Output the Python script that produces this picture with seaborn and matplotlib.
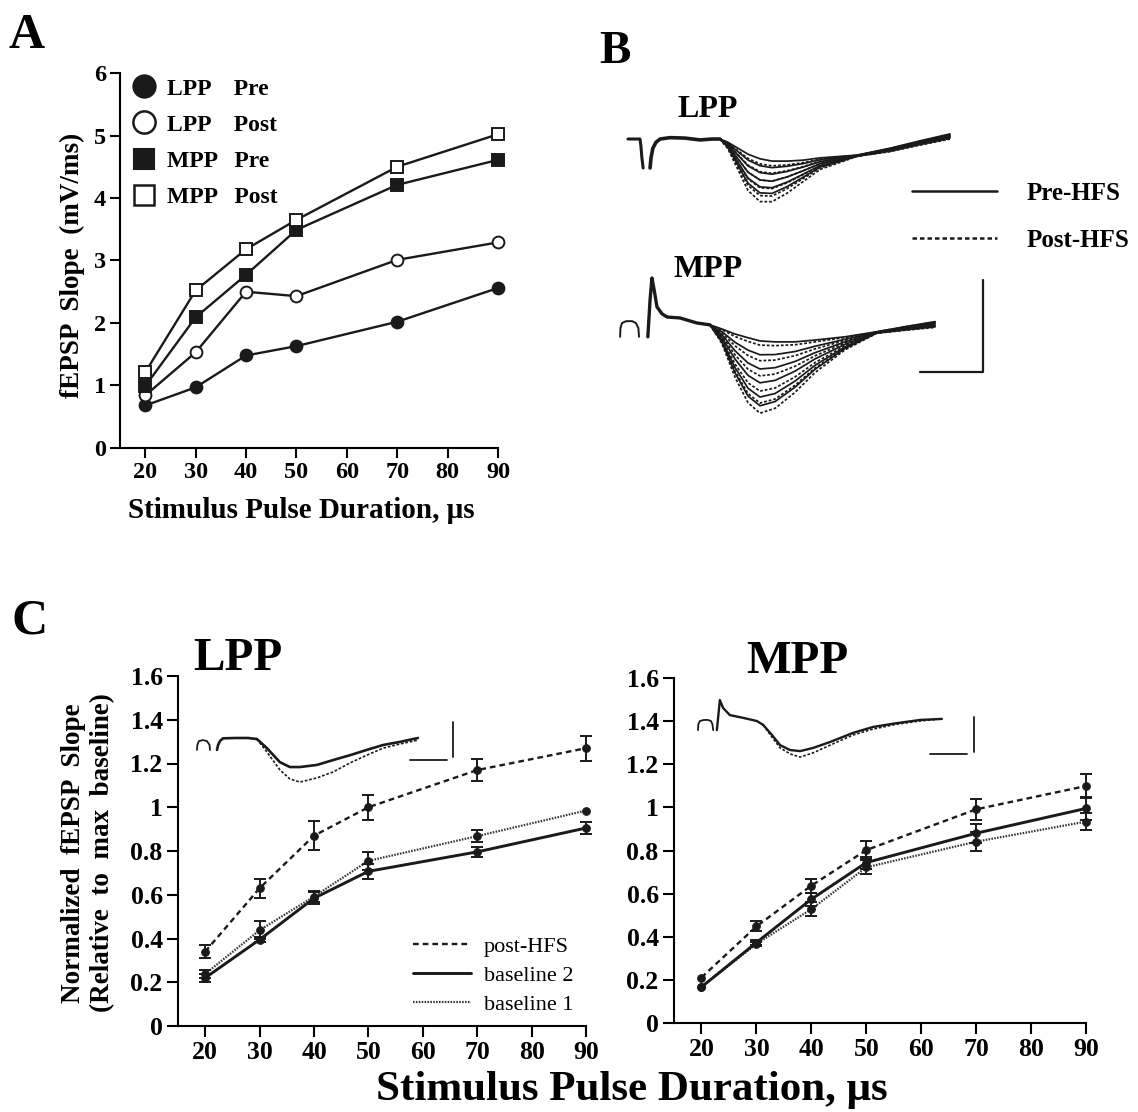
import numpy as np
import matplotlib
matplotlib.use("Agg")
import matplotlib.pyplot as plt
from matplotlib.lines import Line2D
from matplotlib.ticker import FuncFormatter
import seaborn as sns

sns.set_theme(style="ticks", rc={"axes.edgecolor": "black", "xtick.color": "black",
                                 "ytick.color": "black", "text.color": "black",
                                 "axes.labelcolor": "black"})
plt.rcParams["font.family"] = ["Liberation Serif", "DejaVu Serif"]
plt.rcParams["font.weight"] = "bold"
plt.rcParams["axes.linewidth"] = 1.5

# ---- data ----
durations = [20, 30, 40, 50, 70, 90]

# A: fEPSP slope (mV/ms)
lpp_pre = [0.68, 0.97, 1.48, 1.63, 2.02, 2.56]
lpp_post = [0.84, 1.53, 2.50, 2.43, 3.01, 3.29]
mpp_pre = [0.99, 2.09, 2.77, 3.49, 4.21, 4.61]
mpp_post = [1.21, 2.52, 3.18, 3.65, 4.50, 5.02]

# C: normalized slope, mean and error
c_lpp_post = [0.34, 0.63, 0.87, 1.00, 1.17, 1.27]
c_lpp_post_err = [0.03, 0.043, 0.065, 0.058, 0.051, 0.058]
c_lpp_b2 = [0.22, 0.395, 0.584, 0.707, 0.796, 0.905]
c_lpp_b2_err = [0.02, 0.01, 0.027, 0.035, 0.023, 0.028]
c_lpp_b1 = [0.238, 0.438, 0.592, 0.755, 0.868, 0.985]
c_lpp_b1_err = [0.02, 0.04, 0.026, 0.04, 0.028, 0.0]
c_mpp_post = [0.211, 0.448, 0.637, 0.802, 0.991, 1.099]
c_mpp_post_err = [0.0, 0.023, 0.032, 0.041, 0.05, 0.056]
c_mpp_b2 = [0.167, 0.373, 0.574, 0.744, 0.88, 0.995]
c_mpp_b2_err = [0.0, 0.01, 0.03, 0.028, 0.045, 0.055]
c_mpp_b1 = [0.167, 0.367, 0.528, 0.722, 0.841, 0.934]
c_mpp_b1_err = [0.0, 0.01, 0.031, 0.033, 0.044, 0.04]

# B: example traces (ms, mV); dip = slow - amp * fast
b_lpp_art_t = [0, 0.38, 0.41, 0.44, 0.48]
b_lpp_art_v = [0, 0, -0.15, -0.40, -0.63]
b_lpp_base_t = [0.70, 0.73, 0.79, 0.89, 1.02, 1.33, 1.81, 2.29, 2.67, 2.92]
b_lpp_base_v = [-0.63, -0.41, -0.20, -0.07, 0, 0.03, 0.02, -0.02, 0, 0]
b_lpp_dip_t = [2.92, 3.17, 3.49, 3.81, 4.19, 4.57, 5.05, 5.56, 6.10, 7.27, 8.32, 9.27, 10.22]
b_lpp_slow = [0, -0.07, -0.20, -0.33, -0.43, -0.48, -0.48, -0.46, -0.41, -0.35, -0.20, -0.04, 0.11]
b_lpp_fast = [0, 0.15, 0.50, 0.85, 1.0, 0.95, 0.75, 0.50, 0.27, 0.03, 0.08, 0.10, 0.12]
b_lpp_pre_amp = [0, 0.15, 0.30, 0.46, 0.61, 0.74]
b_lpp_post_amp = [0.11, 0.28, 0.46, 0.63, 0.80, 0.93]

b_mpp_art_t = [-0.25, -0.24, -0.19, -0.06, 0.13, 0.25, 0.33, 0.35]
b_mpp_art_v = [-0.26, -0.07, 0.04, 0.08, 0.08, 0.04, -0.07, -0.26]
b_mpp_base_t = [0.63, 0.70, 0.76, 0.83, 0.92, 1.08, 1.24, 1.65, 2.19, 2.60]
b_mpp_base_v = [-0.26, 0.54, 1.02, 0.76, 0.39, 0.24, 0.17, 0.15, 0.04, 0]
b_mpp_dip_t = [2.60, 2.98, 3.40, 3.81, 4.19, 4.67, 5.30, 5.94, 6.89, 7.90, 8.79, 9.75]
b_mpp_slow = [0, -0.09, -0.20, -0.28, -0.35, -0.37, -0.37, -0.33, -0.26, -0.15, -0.04, 0.07]
b_mpp_fast = [0, 0.20, 0.60, 0.90, 1.0, 0.92, 0.70, 0.45, 0.18, 0.02, 0.05, 0.08]
b_mpp_pre_amp = [0, 0.30, 0.61, 0.91, 1.22, 1.41]
b_mpp_post_amp = [0.09, 0.43, 0.76, 1.09, 1.35, 1.57]

# C insets: single traces (ms, mV)
c_lpp_art_t = [0, 0.01, 0.05, 0.16, 0.27, 0.34, 0.35]
c_lpp_art_v = [-0.34, -0.20, -0.09, -0.06, -0.09, -0.20, -0.34]
c_lpp_base_t = [0.54, 0.57, 0.62, 0.70, 1.03, 1.38, 1.62]
c_lpp_base_v = [-0.34, -0.20, -0.09, -0.01, 0, 0, -0.03]
c_lpp_dip_t = [1.62, 1.89, 2.24, 2.51, 2.78, 3.24, 3.68, 4.14, 4.59, 5.03, 5.49, 5.97]
c_lpp_pre_v = [-0.03, -0.29, -0.69, -0.83, -0.83, -0.77, -0.63, -0.49, -0.34, -0.20, -0.11, 0]
c_lpp_post_v = [-0.03, -0.40, -0.91, -1.17, -1.26, -1.14, -0.97, -0.71, -0.49, -0.29, -0.17, -0.06]

c_mpp_art_t = [0, 0.01, 0.05, 0.16, 0.27, 0.35, 0.39, 0.41]
c_mpp_art_v = [-0.26, -0.09, 0, 0.03, 0.03, 0, -0.09, -0.26]
c_mpp_base_t = [0.51, 0.57, 0.59, 0.68, 0.86, 1.22, 1.59, 1.76]
c_mpp_base_v = [-0.26, 0.37, 0.60, 0.37, 0.17, 0.09, 0, -0.11]
c_mpp_dip_t = [1.76, 2.0, 2.22, 2.49, 2.76, 3.11, 3.57, 4.19, 4.73, 5.38, 6.0, 6.59]
c_mpp_pre_v = [-0.11, -0.40, -0.69, -0.83, -0.86, -0.77, -0.60, -0.34, -0.17, -0.06, 0.03, 0.06]
c_mpp_post_v = [-0.11, -0.46, -0.77, -0.94, -1.03, -0.91, -0.69, -0.40, -0.23, -0.09, 0, 0.06]

# ---- layout helpers ----
W, H = 1138, 1112
fig = plt.figure(figsize=(W / 100, H / 100), dpi=100)


def rect(x0, y0, x1, y1):
    return [x0 / W, 1 - y1 / H, (x1 - x0) / W, (y1 - y0) / H]


def ftext(x, y, s, **kw):
    return fig.text(x / W, 1 - y / H, s, **kw)


def trace(ax, t, v, **kw):
    kw.setdefault("lw", 1.0)
    sns.lineplot(x=list(t), y=list(v), ax=ax, sort=False, estimator=None,
                 color="k", legend=False, **kw)


DOT = (0, (1.6, 1.1))

# ---- panel A ----
ax_a = fig.add_axes(rect(120, 73, 498, 448))
styles_a = [(lpp_pre, "o", "k", 8.5), (lpp_post, "o", "w", 8.5),
            (mpp_pre, "s", "k", 8.0), (mpp_post, "s", "w", 8.0)]
for vals, mk, fc, ms in styles_a:
    sns.lineplot(x=durations, y=vals, ax=ax_a, color="k", lw=1.7, marker=mk,
                 markersize=ms, markerfacecolor=fc, markeredgecolor="k",
                 markeredgewidth=1.4, legend=False, clip_on=False)
ax_a.set_xlim(15, 90)
ax_a.set_ylim(0, 6)
ax_a.set_xticks(range(20, 91, 10))
ax_a.set_yticks(range(0, 7))
ax_a.set_xlabel("")
ax_a.set_ylabel("")
sns.despine(ax=ax_a)
ax_a.tick_params(direction="out", length=7, width=1.5, labelsize=17.5, pad=3)

leg_handles = [Line2D([], [], ls="", marker="o", ms=16, mfc="k", mec="k", mew=1.5),
               Line2D([], [], ls="", marker="o", ms=16, mfc="w", mec="k", mew=1.8),
               Line2D([], [], ls="", marker="s", ms=15, mfc="k", mec="k", mew=1.5),
               Line2D([], [], ls="", marker="s", ms=15, mfc="w", mec="k", mew=1.8)]
leg_labels = ["LPP    Pre", "LPP    Post", "MPP   Pre", "MPP   Post"]
ax_a.legend(leg_handles, leg_labels, loc="upper left",
            bbox_to_anchor=(132 / W, 1 - 78 / H), bbox_transform=fig.transFigure,
            frameon=False, fontsize=17, handlelength=1.0, handletextpad=0.5,
            borderpad=0, borderaxespad=0, labelspacing=0.62)

ftext(72, 265, "fEPSP  Slope  (mV/ms)", rotation=90, ha="center", va="center", fontsize=19.5)
ftext(301, 518, "Stimulus Pulse Duration, \u03bcs", ha="center", va="baseline", fontsize=21)

# ---- panel B ----
ax_b = fig.add_axes(rect(600, 80, 1000, 430))
mpp_offset = -4.04
trace(ax_b, b_lpp_art_t, b_lpp_art_v, lw=2.2)
trace(ax_b, b_lpp_base_t, b_lpp_base_v, lw=2.6)
for amps, ls in [(b_lpp_pre_amp, "-"), (b_lpp_post_amp, DOT)]:
    for a in amps:
        v = np.array(b_lpp_slow) - a * np.array(b_lpp_fast)
        trace(ax_b, b_lpp_dip_t, v, lw=1.25, linestyle=ls)
trace(ax_b, b_mpp_art_t, np.array(b_mpp_art_v) + mpp_offset, lw=1.4)
trace(ax_b, b_mpp_base_t, np.array(b_mpp_base_v) + mpp_offset, lw=2.4)
for amps, ls in [(b_mpp_pre_amp, "-"), (b_mpp_post_amp, DOT)]:
    for a in amps:
        v = np.array(b_mpp_slow) - a * np.array(b_mpp_fast) + mpp_offset
        trace(ax_b, b_mpp_dip_t, v, lw=1.25, linestyle=ls)
# scale bar: 2 ms, 2 mV
bar_ms, bar_mv = 2.0, 2.0
corner_t, corner_v = 11.27, -5.07
ax_b.plot([corner_t - bar_ms, corner_t, corner_t], [corner_v, corner_v, corner_v + bar_mv],
          color="k", lw=1.6)
ax_b.set_xlim(-0.889, 11.81)
ax_b.set_ylim(-6.326, 1.283)
ax_b.axis("off")

fig.legend([Line2D([], [], color="k", lw=1.8), Line2D([], [], color="k", lw=1.8, ls=(0, (1.8, 1.2)))],
           ["Pre-HFS", "Post-HFS"], loc="upper left",
           bbox_to_anchor=(912 / W, 1 - 182 / H), frameon=False, fontsize=18,
           handlelength=3.4, handletextpad=1.2, borderpad=0, borderaxespad=0,
           labelspacing=0.95)
ftext(708, 117, "LPP", ha="center", va="baseline", fontsize=23)
ftext(708, 277, "MPP", ha="center", va="baseline", fontsize=23)

# ---- panel C ----
ax_l = fig.add_axes(rect(178, 676, 586, 1026))
ax_m = fig.add_axes(rect(674, 678, 1086, 1023))
series_style = {
    "post-HFS": dict(lw=1.7, linestyle=(0, (2.4, 1.7)), color="k"),
    "baseline 2": dict(lw=2.1, linestyle="-", color="k"),
    "baseline 1": dict(lw=1.6, linestyle=(0, (0.7, 0.6)), color="0.2"),
}
panels = [(ax_l, [("baseline 1", c_lpp_b1, c_lpp_b1_err), ("baseline 2", c_lpp_b2, c_lpp_b2_err),
                  ("post-HFS", c_lpp_post, c_lpp_post_err)]),
          (ax_m, [("baseline 1", c_mpp_b1, c_mpp_b1_err), ("baseline 2", c_mpp_b2, c_mpp_b2_err),
                  ("post-HFS", c_mpp_post, c_mpp_post_err)])]
for ax, series in panels:
    for name, vals, err in series:
        st = series_style[name]
        sns.lineplot(x=durations, y=vals, ax=ax, marker="o", markersize=5.5,
                     markerfacecolor="k", markeredgecolor="k", legend=False,
                     clip_on=False, **st)
        x = np.array(durations)
        e = np.array(err)
        keep = e > 0
        ax.errorbar(x[keep], np.array(vals)[keep], yerr=e[keep], fmt="none", ecolor="k",
                    elinewidth=1.4, capsize=4.5, capthick=1.4, clip_on=False)
    ax.set_xlim(15, 90)
    ax.set_ylim(0, 1.6)
    ax.set_xticks(range(20, 91, 10))
    ax.set_yticks(np.arange(0, 1.61, 0.2))
    ax.yaxis.set_major_formatter(FuncFormatter(lambda v, p: f"{v:g}"))
    ax.set_xlabel("")
    ax.set_ylabel("")
    sns.despine(ax=ax)
    ax.tick_params(direction="out", length=8, width=1.5, labelsize=18.5, pad=3)

c_handles = [Line2D([], [], **series_style[n]) for n in ["post-HFS", "baseline 2", "baseline 1"]]
ax_l.legend(c_handles, ["post-HFS", "baseline 2", "baseline 1"], loc="upper left",
            bbox_to_anchor=(413 / W, 1 - 936 / H), bbox_transform=fig.transFigure,
            frameon=False, prop={"size": 16, "weight": "normal"}, handlelength=2.6,
            handletextpad=0.6, borderpad=0, borderaxespad=0, labelspacing=0.38)

# C insets
ins_l = fig.add_axes(rect(190, 705, 460, 795))
trace(ins_l, c_lpp_art_t, c_lpp_art_v, lw=1.3)
trace(ins_l, c_lpp_base_t, c_lpp_base_v, lw=1.9)
trace(ins_l, c_lpp_dip_t, c_lpp_post_v, lw=1.2, linestyle=DOT)
trace(ins_l, c_lpp_dip_t, c_lpp_pre_v, lw=1.9)
ins_l.plot([5.76, 6.76], [-0.63, -0.63], color="k", lw=1.3)
ins_l.plot([6.92, 6.92], [-0.54, 0.46], color="k", lw=1.3)
ins_l.set_xlim(-0.189, 7.108)
ins_l.set_ylim(-1.629, 0.943)
ins_l.axis("off")

ins_m = fig.add_axes(rect(690, 690, 990, 770))
trace(ins_m, c_mpp_art_t, c_mpp_art_v, lw=1.3)
trace(ins_m, c_mpp_base_t, c_mpp_base_v, lw=1.7)
trace(ins_m, c_mpp_dip_t, c_mpp_post_v, lw=1.2, linestyle=DOT)
trace(ins_m, c_mpp_dip_t, c_mpp_pre_v, lw=1.7)
ins_m.plot([6.27, 7.27], [-0.94, -0.94], color="k", lw=1.3)
ins_m.plot([7.46, 7.46], [-0.89, 0.11], color="k", lw=1.3)
ins_m.set_xlim(-0.216, 7.892)
ins_m.set_ylim(-1.4, 0.886)
ins_m.axis("off")

ftext(238, 670, "LPP", ha="center", va="baseline", fontsize=34)
ftext(797, 673, "MPP", ha="center", va="baseline", fontsize=34)
ftext(88, 853, "Normalized  fEPSP  Slope\n(Relative  to  max  baseline)", rotation=90,
      ha="center", va="center", fontsize=19.5, linespacing=1.2)
ftext(632, 1100, "Stimulus Pulse Duration, \u03bcs", ha="center", va="baseline", fontsize=31)

# panel letters
ftext(27, 48, "A", ha="center", va="baseline", fontsize=36)
ftext(615, 63, "B", ha="center", va="baseline", fontsize=34)
ftext(30, 633, "C", ha="center", va="baseline", fontsize=36)

fig.savefig("out.png", dpi=100)
